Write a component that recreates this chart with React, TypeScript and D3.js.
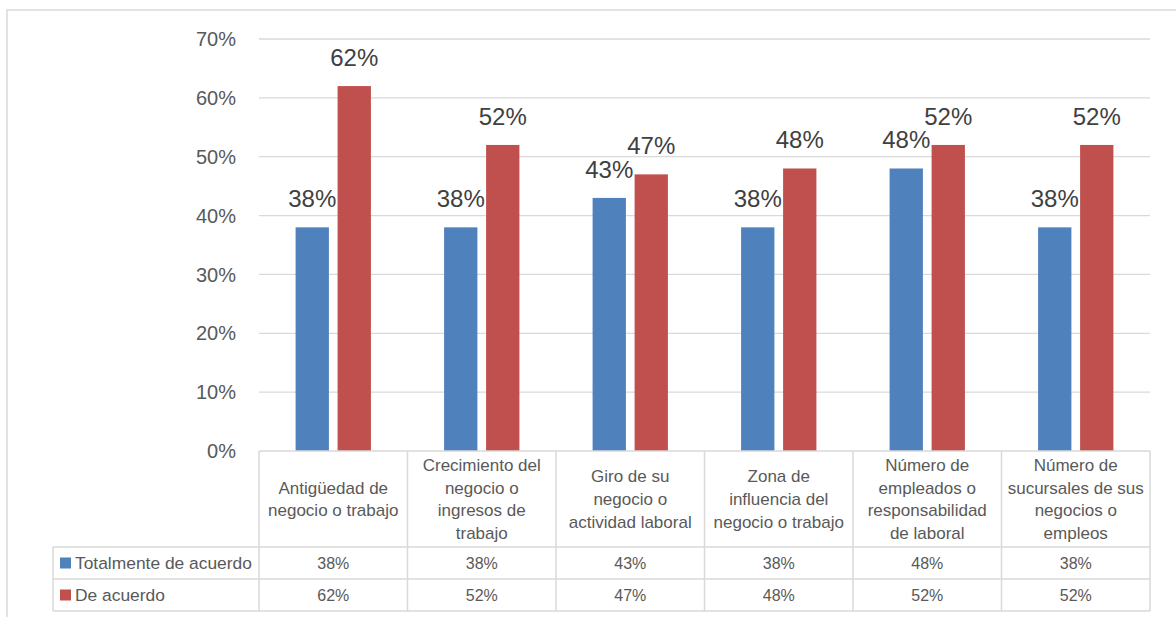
import React from "react";
import * as d3 from "d3";

const categories: string[][] = [
  ["Antigüedad de", "negocio o trabajo"],
  ["Crecimiento del", "negocio o", "ingresos de", "trabajo"],
  ["Giro de su", "negocio o", "actividad laboral"],
  ["Zona de", "influencia del", "negocio o trabajo"],
  ["Número de", "empleados o", "responsabilidad", "de laboral"],
  ["Número de", "sucursales de sus", "negocios o", "empleos"],
];
const seriesNames = ["Totalmente de acuerdo", "De acuerdo"];
const totalmente = [38, 38, 43, 38, 48, 38];
const deAcuerdo = [62, 52, 47, 48, 52, 52];
const yTicks = [0, 10, 20, 30, 40, 50, 60, 70];
const colors = ["#4f81bd", "#c0504d"];

const W = 1176;
const H = 617;
const plotL = 259;
const plotR = 1150;
const plotT = 39;
const plotB = 451;
const row1 = 547;
const row2 = 579;
const tableB = 611;
const legendL = 53;
const FONT = "'Liberation Sans', Arial, sans-serif";

export default function App() {
  const seriesValues = [totalmente, deAcuerdo];
  const idx = categories.map((_, i) => String(i));
  const x0 = d3.scaleBand<string>().domain(idx).range([plotL, plotR]).padding(0);
  const x1 = d3
    .scaleBand<string>()
    .domain(seriesNames)
    .range([0, x0.bandwidth()])
    .paddingInner(0.207)
    .paddingOuter(0.871);
  const y = d3.scaleLinear().domain([0, 70]).range([plotB, plotT]);
  const lineH = 22.7;
  const headerMid = (plotB + row1) / 2;

  return (
    <svg width={W} height={H} style={{ position: "absolute", left: 0, top: 0, background: "#fff" }}>
      <rect x={7} y={10} width={W + 20} height={H + 20} fill="#fff" stroke="#d9d9d9" strokeWidth={1.5} />
      {yTicks.map((t) => (
        <g key={t}>
          {t > 0 && (
            <line x1={plotL} x2={plotR} y1={y(t)} y2={y(t)} stroke="#d9d9d9" strokeWidth={1.3} />
          )}
          <text
            x={236}
            y={y(t)}
            dy="0.36em"
            textAnchor="end"
            fontFamily={FONT}
            fontSize={20}
            fill="#595959"
          >
            {t}%
          </text>
        </g>
      ))}
      {seriesValues.map((vals, s) =>
        vals.map((v, i) => {
          const bx = (x0(String(i)) ?? 0) + (x1(seriesNames[s]) ?? 0);
          return (
            <rect
              key={`${s}-${i}`}
              x={bx}
              y={y(v)}
              width={x1.bandwidth()}
              height={plotB - y(v)}
              fill={colors[s]}
            />
          );
        })
      )}
      {seriesValues.map((vals, s) =>
        vals.map((v, i) => {
          const bx = (x0(String(i)) ?? 0) + (x1(seriesNames[s]) ?? 0);
          return (
            <text
              key={`l${s}-${i}`}
              x={bx + x1.bandwidth() / 2}
              y={y(v) - 20}
              textAnchor="middle"
              fontFamily={FONT}
              fontSize={24}
              fill="#404040"
            >
              {v}%
            </text>
          );
        })
      )}
      <g stroke="#d9d9d9" strokeWidth={1.5} fill="none">
        <line x1={plotL} x2={plotR} y1={plotB} y2={plotB} />
        <line x1={legendL} x2={plotR} y1={row1} y2={row1} />
        <line x1={legendL} x2={plotR} y1={row2} y2={row2} />
        <line x1={legendL} x2={plotR} y1={tableB} y2={tableB} />
        <line x1={legendL} x2={legendL} y1={row1} y2={tableB} />
        {idx.map((k) => (
          <line key={k} x1={x0(k)} x2={x0(k)} y1={plotB} y2={tableB} />
        ))}
        <line x1={plotR} x2={plotR} y1={plotB} y2={tableB} />
      </g>
      {categories.map((lines, i) => {
        const cx = (x0(String(i)) ?? 0) + x0.bandwidth() / 2;
        const first = headerMid - ((lines.length - 1) * lineH) / 2 + 6;
        return (
          <text key={i} textAnchor="middle" fontFamily={FONT} fontSize={17} fill="#595959">
            {lines.map((ln, j) => (
              <tspan key={j} x={cx} y={first + j * lineH}>
                {ln}
              </tspan>
            ))}
          </text>
        );
      })}
      {seriesValues.map((vals, s) => {
        const top = s === 0 ? row1 : row2;
        const mid = top + (row2 - row1) / 2;
        return (
          <g key={`row${s}`}>
            <rect x={60} y={mid - 5.5} width={11} height={11} fill={colors[s]} />
            <text x={75} y={mid + 6} fontFamily={FONT} fontSize={17.4} fill="#595959">
              {seriesNames[s]}
            </text>
            {vals.map((v, i) => (
              <text
                key={i}
                x={(x0(String(i)) ?? 0) + x0.bandwidth() / 2}
                y={mid + 6}
                textAnchor="middle"
                fontFamily={FONT}
                fontSize={16}
                fill="#595959"
              >
                {v}%
              </text>
            ))}
          </g>
        );
      })}
    </svg>
  );
}
